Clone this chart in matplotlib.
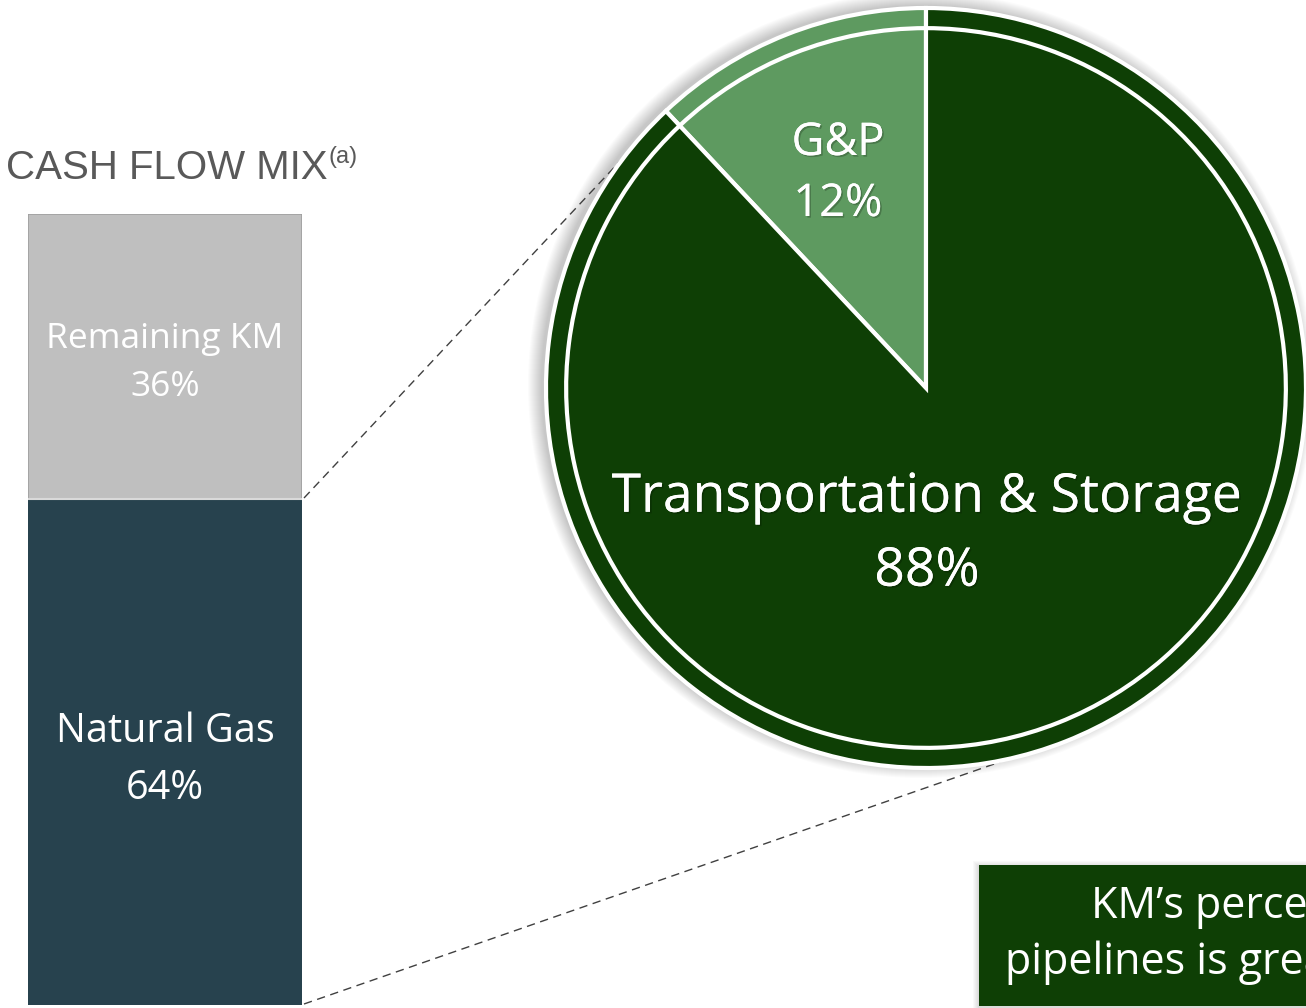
import matplotlib
matplotlib.use("Agg")
import matplotlib.pyplot as plt
from matplotlib.patches import Rectangle, Circle
import matplotlib.patheffects as pe

# ---- data ----
bar_labels = ["Natural Gas", "Remaining KM"]
bar_values = [64, 36]
pie_labels = ["G&P", "Transportation & Storage"]
pie_values = [12, 88]
title = "CASH FLOW MIX"
note_lines = ["KM\u2019s percentage of cash flow from", "pipelines is greater than peers"]

W, H = 1306, 1008
fig = plt.figure(figsize=(W / 100, H / 100), dpi=100)
fig.patch.set_facecolor("white")

FONT = "Open Sans"
DARK_GREEN = "#0E3F05"
LIGHT_GREEN = "#5E9A60"
BAR_DARK = "#27424E"
BAR_GRAY = "#BFBFBF"
shadow = [pe.withSimplePatchShadow(offset=(1.2, -1.2), shadow_rgbFace="black", alpha=0.22), pe.Normal()]

# ---- overlay axes in pixel coords ----
ov = fig.add_axes([0, 0, 1, 1], zorder=0)
ov.set_xlim(0, W)
ov.set_ylim(H, 0)
ov.axis("off")

# soft shadow around pie
cx, cy, R = 926, 388, 380
for i in range(14):
    ov.add_patch(Circle((cx - 5, cy - 3), R + 13 - i, color="black", alpha=0.016, lw=0))

# dashed connector lines
ov.plot([304, 668], [498, 110], ls=(0, (6, 4)), color="#404040", lw=1.0)
ov.plot([304, 1000], [1004, 762], ls=(0, (6, 4)), color="#404040", lw=1.0)

# title
ov.text(6, 168, title, fontsize=29, color="#595959", family="Liberation Sans", va="center", ha="left")
ov.text(329, 157, "(a)", fontsize=17, color="#595959", family="Liberation Sans", va="center", ha="left")

# note box
for i in range(6):
    ov.add_patch(Rectangle((979 - 6 + i, 865 - 4 + i), 400, 150, color="black", alpha=0.025, lw=0))
ov.add_patch(Rectangle((979, 865), 400, 141, color=DARK_GREEN, lw=0))
ov.text(1091, 907, note_lines[0], fontsize=31, color="white", family=FONT, va="center", ha="left")
ov.text(1005, 963, note_lines[1], fontsize=31, color="white", family=FONT, va="center", ha="left")

# ---- stacked bar ----
bx = fig.add_axes([28 / W, 3 / H, 274 / W, 791 / H], zorder=1)
bx.set_xlim(-0.5, 0.5)
bx.set_ylim(0, 100)
bx.axis("off")
bottom = 0
colors = [BAR_DARK, BAR_GRAY]
for lab, v, c in zip(bar_labels, bar_values, colors):
    bx.bar(0, v, bottom=bottom, width=1.0, color=c, edgecolor="#A0A0A0" if c == BAR_GRAY else BAR_DARK, lw=1.2)
    bottom += v

def bar_y(ypix):
    return (1005 - ypix) / 791 * 100

label_pos = [(732, 789, 28.5), (339, 387, 25.5)]
for lab, v, (y1, y2, fs) in zip(bar_labels, bar_values, label_pos):
    bx.text(0, bar_y(y1), lab, ha="center", va="center", fontsize=fs, color="white", family=FONT)
    bx.text(0, bar_y(y2), f"{v}%", ha="center", va="center", fontsize=fs, color="white", family=FONT)
bx.axhline(bar_values[0], color="#D9D9D9", lw=1.5)

# ---- pie ----
px = fig.add_axes([(cx - R) / W, (H - cy - R) / H, 2 * R / W, 2 * R / H], zorder=2)
pie_colors = [LIGHT_GREEN, DARK_GREEN]
px.pie(pie_values, colors=pie_colors, startangle=90, counterclock=True, radius=1.0,
       wedgeprops=dict(edgecolor="white", linewidth=3), center=(0, 0), frame=False)
px.pie(pie_values, colors=pie_colors, startangle=90, counterclock=True, radius=0.947,
       wedgeprops=dict(edgecolor="white", linewidth=3), center=(0, 0), frame=False)
px.set_xlim(-1, 1)
px.set_ylim(-1, 1)
px.axis("off")

def to_ax(x, y):
    return ((x - cx) / R, (cy - y) / R)

x, y = to_ax(838, 143)
px.text(x, y, pie_labels[0], ha="center", va="center", fontsize=32.5, color="white", family=FONT, path_effects=shadow)
x, y = to_ax(838, 204)
px.text(x, y, f"{pie_values[0]}%", ha="center", va="center", fontsize=32.5, color="white", family=FONT, path_effects=shadow)
x, y = to_ax(927, 498)
px.text(x, y, pie_labels[1], ha="center", va="center", fontsize=38.5, color="white", family=FONT, path_effects=shadow)
x, y = to_ax(927, 572)
px.text(x, y, f"{pie_values[1]}%", ha="center", va="center", fontsize=38.5, color="white", family=FONT, path_effects=shadow)

fig.savefig("out.png", dpi=100, facecolor="white")
